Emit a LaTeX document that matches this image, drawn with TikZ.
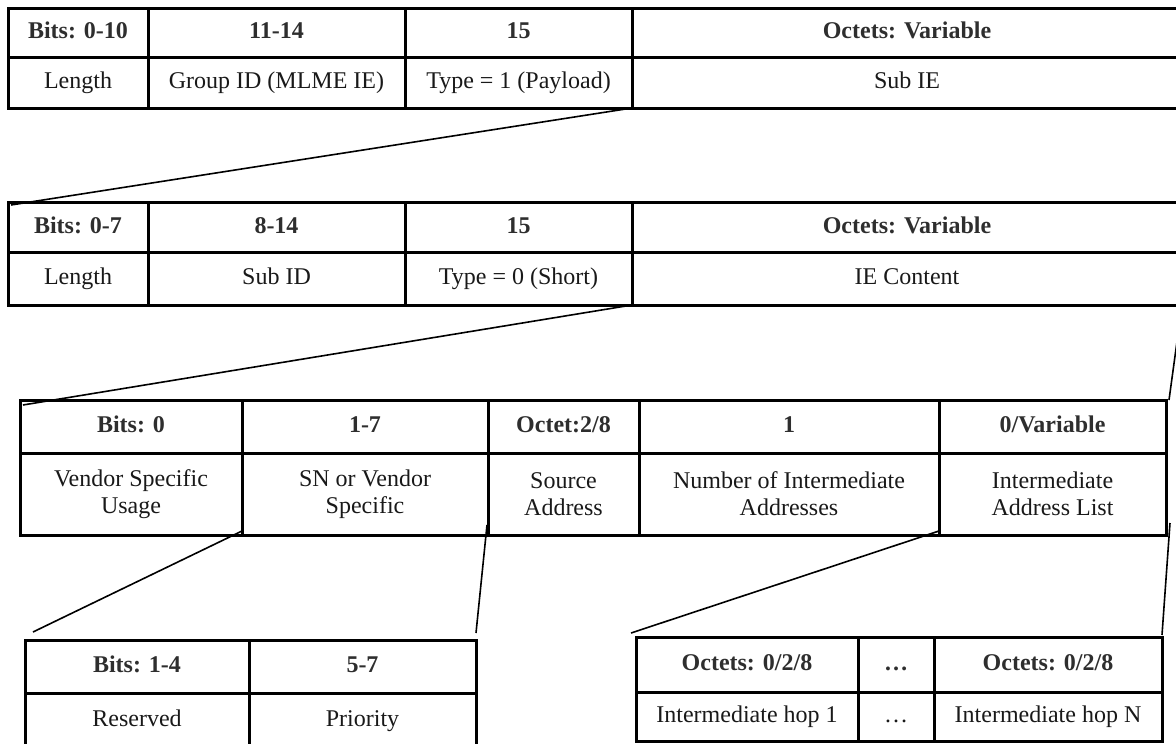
\documentclass[tikz,border=0pt]{standalone}
\usepackage{fontspec}
\setmainfont{Liberation Serif}
\usetikzlibrary{calc}

\tikzset{
  fieldcell/.style={draw=black, line width=3pt, inner sep=0pt, outer sep=0pt,
    align=center, text=black!90, font=\fontsize{24}{27}\selectfont,
    text height=17pt, text depth=5pt},
  headcell/.style={fieldcell, font=\fontsize{24}{27}\selectfont\bfseries, text=black!82},
  twoline/.style={draw=black, line width=3pt, inner sep=0pt, outer sep=0pt,
    align=center, text=black!90, font=\fontsize{24}{27}\selectfont},
  link/.style={line width=1.6pt, draw=black}
}

% #1 style, #2 name, #3 left, #4 top, #5 right, #6 bottom, #7 text
\newcommand\fieldbox[7]{%
  \node[#1, anchor=north west, minimum width={#5-#3}, minimum height={#6-#4}]
    (#2) at (#3,#4) {#7};}

\begin{document}
\begin{tikzpicture}[x=1pt, y=-1pt]
\useasboundingbox (0,0) rectangle (1176,744);
\clip (0,0) rectangle (1176,744);

% Payload IE header
\fieldbox{headcell}{pa}{8}{8}{148}{57}{Bits: 0-10}
\fieldbox{headcell}{pb}{148}{8}{405}{57}{11-14}
\fieldbox{headcell}{pc}{405}{8}{632}{57}{15}
\fieldbox{headcell}{pd}{632}{8}{1182}{57}{Octets: Variable}
\fieldbox{fieldcell}{pe}{8}{57}{148}{108}{Length}
\fieldbox{fieldcell}{pf}{148}{57}{405}{108}{Group ID (MLME IE)}
\fieldbox{fieldcell}{pg}{405}{57}{632}{108}{Type = 1 (Payload)}
\fieldbox{fieldcell}{ph}{632}{57}{1182}{108}{Sub IE}

% Short sub-IE header
\fieldbox{headcell}{sa}{8}{202}{148}{252}{Bits: 0-7}
\fieldbox{headcell}{sb}{148}{202}{405}{252}{8-14}
\fieldbox{headcell}{sc}{405}{202}{632}{252}{15}
\fieldbox{headcell}{sd}{632}{202}{1182}{252}{Octets: Variable}
\fieldbox{fieldcell}{se}{8}{252}{148}{305}{Length}
\fieldbox{fieldcell}{sf}{148}{252}{405}{305}{Sub ID}
\fieldbox{fieldcell}{sg}{405}{252}{632}{305}{Type = 0 (Short)}
\fieldbox{fieldcell}{sh}{632}{252}{1182}{305}{IE Content}

% IE content fields
\fieldbox{headcell}{ca}{20}{400}{242}{453}{Bits: 0}
\fieldbox{headcell}{cb}{242}{400}{488}{453}{1-7}
\fieldbox{headcell}{cc}{488}{400}{639}{453}{Octet:2/8}
\fieldbox{headcell}{cd}{639}{400}{939}{453}{1}
\fieldbox{headcell}{ce}{939}{400}{1166}{453}{0/Variable}
\fieldbox{twoline}{cf}{20}{453}{242}{535}{Vendor Specific\\Usage}
\fieldbox{twoline}{cg}{242}{453}{488}{535}{SN or Vendor\\Specific}
\fieldbox{twoline}{ch}{488}{453}{639}{535}{Source\\Address}
\fieldbox{twoline}{ci}{639}{453}{939}{535}{Number of Intermediate\\Addresses}
\fieldbox{twoline}{cj}{939}{453}{1166}{535}{Intermediate\\Address List}

% SN / vendor specific bits
\fieldbox{headcell}{va}{25}{640}{249}{693}{Bits: 1-4}
\fieldbox{headcell}{vb}{249}{640}{476}{693}{5-7}
\fieldbox{fieldcell}{vc}{25}{693}{249}{748}{Reserved}
\fieldbox{fieldcell}{vd}{249}{693}{476}{748}{Priority}

% Intermediate address list
\fieldbox{headcell}{ha}{636}{637}{858}{692}{Octets: 0/2/8}
\fieldbox{headcell}{hb}{858}{637}{934}{692}{…}
\fieldbox{headcell}{hc}{934}{637}{1162}{692}{Octets: 0/2/8}
\fieldbox{fieldcell}{hd}{636}{692}{858}{741}{Intermediate hop 1}
\fieldbox{fieldcell}{he}{858}{692}{934}{741}{…}
\fieldbox{fieldcell}{hf}{934}{692}{1162}{741}{Intermediate hop N}

% expansion lines
\draw[link] (pg.south east) -- ($(sa.north west)+(3,3)$);
\draw[link] (sg.south east) -- ($(ca.north west)+(3,5)$);
\draw[link] (sh.south east) -- ($(ce.north east)+(3,0)$);
\draw[link] ($(cf.south east)+(0,-4)$) -- ($(va.north west)+(8,-8)$);
\draw[link] ($(cg.south east)+(-1,-10)$) -- ($(vb.north east)+(0,-7)$);
\draw[link] ($(ci.south east)+(0,-4)$) -- ($(ha.north west)+(-5,-4)$);
\draw[link] ($(cj.south east)+(4,-12)$) -- ($(hc.north east)+(0,-2)$);
\end{tikzpicture}
\end{document}
